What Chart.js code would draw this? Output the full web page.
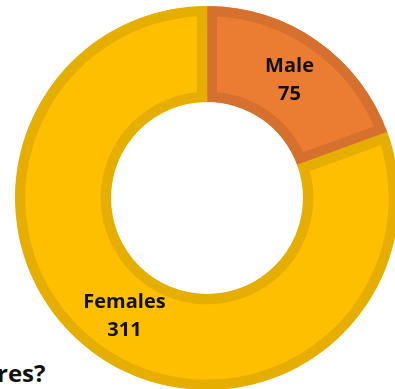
<!DOCTYPE html>
<html>
<head>
<meta charset="utf-8">
<script src="https://cdn.jsdelivr.net/npm/chart.js@4"></script>
<style>
  html, body { margin: 0; padding: 0; background: #fff; overflow: hidden; }
  body { width: 395px; height: 389px; position: relative; }
  #wrap { position: absolute; left: 15px; top: 6px; width: 384px; height: 384px; }
  #cut { position: absolute; left: -3px; top: 358px; font-family: "Open Sans", sans-serif;
         font-weight: bold; font-size: 24px; color: #111; line-height: 30px; }
</style>
</head>
<body>
<div id="cut">res?</div>
<div id="wrap"><canvas id="genero"></canvas></div>
<script>
var categorias = ['Male', 'Females']
var valores = [75, 311]
var coresFundo = ['#EB7D32', '#FDBF00']
var coresBorda = ['#D5702F', '#E6AE00']

// escreve nome + valor no meio de cada fatia
var rotulosPlugin = {
    id: 'rotulos',
    afterDatasetsDraw: function (chart) {
        var ctx = chart.ctx
        var meta = chart.getDatasetMeta(0)
        ctx.save()
        ctx.font = 'bold 20px "Open Sans", sans-serif'
        ctx.fillStyle = '#111'
        ctx.textAlign = 'center'
        ctx.textBaseline = 'middle'
        meta.data.forEach(function (arc, i) {
            var p = arc.getProps(['x', 'y', 'startAngle', 'endAngle', 'innerRadius', 'outerRadius'])
            var meio = (p.startAngle + p.endAngle) / 2
            var r = (p.innerRadius + p.outerRadius) / 2
            var cx = p.x + Math.cos(meio) * r
            var cy = p.y + Math.sin(meio) * r
            ctx.fillText(categorias[i], cx, cy - 14)
            ctx.fillText(String(valores[i]), cx, cy + 14)
        })
        ctx.restore()
    }
}

var graficoGenero = new Chart(document.getElementById('genero'), {
    type: 'doughnut',
    data: {
        labels: categorias,
        datasets: [{
            data: valores,
            backgroundColor: coresFundo,
            borderColor: coresBorda,
            borderWidth: 10,
            borderAlign: 'inner'
        }]
    },
    options: {
        responsive: true,
        maintainAspectRatio: false,
        animation: false,
        cutout: '50%',
        layout: { padding: 0 },
        plugins: {
            legend: { display: false },
            tooltip: { enabled: false }
        }
    },
    plugins: [rotulosPlugin]
})
</script>
</body>
</html>
